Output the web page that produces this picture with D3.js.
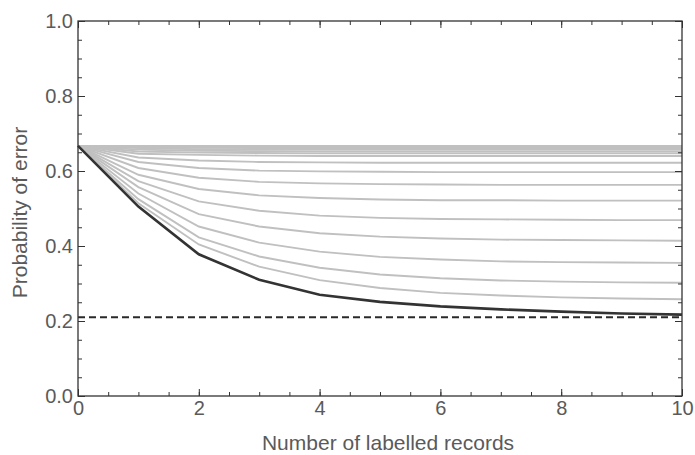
<!DOCTYPE html>
<html>
<head>
<meta charset="utf-8">
<script src="https://cdn.jsdelivr.net/npm/d3@7"></script>
<style>
body { margin: 0; background: #fff; }
.tick text { font-family: "Liberation Sans", Arial, sans-serif; fill: #5a5a5a; }
</style>
</head>
<body>
<div id="chart"></div>
<script>
// error probability vs number of labelled records

var records = [0, 1, 2, 3, 4, 5, 6, 7, 8, 9, 10]
var xTickValues = [0, 2, 4, 6, 8, 10]
var yTickValues = [0, 0.2, 0.4, 0.6, 0.8, 1.0]
var xTitle = 'Number of labelled records'
var yTitle = 'Probability of error'

// dark curve (lower envelope) and the dashed floor
var bestCurve = [0.667, 0.505, 0.378, 0.310, 0.270, 0.251, 0.239, 0.231, 0.225, 0.220, 0.217]
var floorLevel = 0.21

var greyCurves = [
	[0.667, 0.667, 0.667, 0.667, 0.667, 0.667, 0.667, 0.667, 0.667, 0.667, 0.667],
	[0.667, 0.665, 0.664, 0.664, 0.664, 0.664, 0.664, 0.664, 0.664, 0.664, 0.664],
	[0.667, 0.663, 0.662, 0.661, 0.661, 0.661, 0.661, 0.661, 0.661, 0.661, 0.661],
	[0.667, 0.661, 0.658, 0.657, 0.657, 0.657, 0.657, 0.657, 0.657, 0.657, 0.657],
	[0.667, 0.657, 0.654, 0.653, 0.652, 0.652, 0.652, 0.652, 0.652, 0.652, 0.652],
	[0.667, 0.652, 0.649, 0.648, 0.647, 0.647, 0.647, 0.647, 0.647, 0.647, 0.647],
	[0.667, 0.646, 0.643, 0.641, 0.640, 0.640, 0.640, 0.640, 0.640, 0.640, 0.640],
	[0.667, 0.636, 0.628, 0.624, 0.623, 0.622, 0.622, 0.622, 0.622, 0.622, 0.622],
	[0.667, 0.624, 0.608, 0.601, 0.599, 0.598, 0.597, 0.597, 0.597, 0.597, 0.597],
	[0.667, 0.608, 0.582, 0.571, 0.567, 0.565, 0.564, 0.563, 0.563, 0.563, 0.563],
	[0.667, 0.590, 0.552, 0.535, 0.528, 0.524, 0.522, 0.522, 0.521, 0.521, 0.521],
	[0.667, 0.573, 0.519, 0.494, 0.481, 0.475, 0.472, 0.471, 0.470, 0.469, 0.469],
	[0.667, 0.557, 0.485, 0.452, 0.434, 0.425, 0.420, 0.417, 0.416, 0.415, 0.414],
	[0.667, 0.540, 0.452, 0.409, 0.385, 0.371, 0.364, 0.359, 0.357, 0.356, 0.355],
	[0.667, 0.525, 0.423, 0.372, 0.342, 0.324, 0.314, 0.308, 0.305, 0.303, 0.302],
	[0.667, 0.514, 0.404, 0.345, 0.309, 0.288, 0.275, 0.268, 0.263, 0.260, 0.258]
]

var width = 695
var height = 455
var margin = {'top': 21, 'right': 13, 'bottom': 59, 'left': 78}
var innerW = width - margin.left - margin.right
var innerH = height - margin.top - margin.bottom

var svg = d3.select('#chart').append('svg')
	.attr('width', width)
	.attr('height', height)

var g = svg.append('g')
	.attr('transform', 'translate(' + margin.left + ',' + margin.top + ')')

var x = d3.scaleLinear().domain([0, 10]).range([0, innerW])
var y = d3.scaleLinear().domain([0, 1]).range([innerH, 0])

var line = d3.line()
	.x(function(d, i) { return x(records[i]) })
	.y(function(d) { return y(d) })

// curves
g.append('g').selectAll('path')
	.data(greyCurves)
	.enter()
	.append('path')
	.attr('d', line)
	.attr('fill', 'none')
	.attr('stroke', '#c0c0c0')
	.attr('stroke-width', 1.9)

g.append('path')
	.datum(bestCurve)
	.attr('d', line)
	.attr('fill', 'none')
	.attr('stroke', '#333')
	.attr('stroke-width', 2.6)

g.append('line')
	.attr('x1', x(0)).attr('x2', x(10))
	.attr('y1', y(floorLevel)).attr('y2', y(floorLevel))
	.attr('stroke', '#2a2a2a')
	.attr('stroke-width', 2)
	.attr('stroke-dasharray', '7,4')

// frame ticks, pointing inward
var major = 7, minor = 4
var xMinor = d3.range(0, 10.001, 0.5)
var yMinor = d3.range(0, 1.0001, 0.05)

var addAxis = function(axis, tx, ty) {
	var a = g.append('g')
		.attr('transform', 'translate(' + tx + ',' + ty + ')')
		.call(axis)
	a.select('.domain').remove()
	a.selectAll('.tick line').attr('stroke', '#333')
	return a
}

addAxis(d3.axisBottom(x).tickValues(xMinor).tickSize(-minor).tickFormat(''), 0, innerH)
addAxis(d3.axisTop(x).tickValues(xMinor).tickSize(-minor).tickFormat(''), 0, 0)
addAxis(d3.axisLeft(y).tickValues(yMinor).tickSize(-minor).tickFormat(''), 0, 0)
addAxis(d3.axisRight(y).tickValues(yMinor).tickSize(-minor).tickFormat(''), innerW, 0)

var xAxis = addAxis(d3.axisBottom(x).tickValues(xTickValues).tickSize(-major).tickPadding(5)
	.tickFormat(d3.format('d')), 0, innerH)
var yAxis = addAxis(d3.axisLeft(y).tickValues(yTickValues).tickSize(-major).tickPadding(5)
	.tickFormat(d3.format('.1f')), 0, 0)
addAxis(d3.axisTop(x).tickValues(xTickValues).tickSize(-major).tickFormat(''), 0, 0)
addAxis(d3.axisRight(y).tickValues(yTickValues).tickSize(-major).tickFormat(''), innerW, 0)

xAxis.selectAll('text').attr('font-size', 20)
yAxis.selectAll('text').attr('font-size', 20)

g.append('rect')
	.attr('width', innerW)
	.attr('height', innerH)
	.attr('fill', 'none')
	.attr('stroke', '#333')
	.attr('stroke-width', 1.3)

// titles
svg.append('text')
	.attr('x', margin.left + innerW / 2 + 8)
	.attr('y', 450)
	.attr('text-anchor', 'middle')
	.attr('font-family', '"Liberation Sans", Arial, sans-serif')
	.attr('font-size', 21)
	.attr('fill', '#5a5a5a')
	.text(xTitle)

svg.append('text')
	.attr('transform', 'translate(27,' + (margin.top + innerH / 2 + 4) + ') rotate(-90)')
	.attr('text-anchor', 'middle')
	.attr('font-family', '"Liberation Sans", Arial, sans-serif')
	.attr('font-size', 21)
	.attr('fill', '#5a5a5a')
	.text(yTitle)
</script>
</body>
</html>
